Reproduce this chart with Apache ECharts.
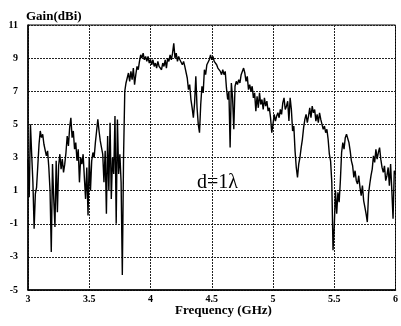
<!DOCTYPE html>
<html><head><meta charset="utf-8">
<script src="https://cdn.jsdelivr.net/npm/echarts@6/dist/echarts.min.js"></script>
<style>html,body{margin:0;padding:0;background:#fff}#c{width:401px;height:326px}</style>
</head><body><div id="c"></div>
<script>
// Frequency sampling grid (GHz)
const freqStart = 3.00;
const freqStep = 0.01;
// Gain readings (dBi), one per 0.01 GHz from 3.00 to 6.00
const gain3_0 = [2.9,0.6,5.0,3.2,1.5,-1.3,0.8,1.2,2.5,3.8];
const gain3_1 = [4.6,4.2,4.4,3.8,3.9,3.1,3.4,2.4,1.0,-2.7];
const gain3_2 = [2.6,0.5,-1.2,2.8,-0.3,2.5,3.2,2.3,2.9,2.1];
const gain3_3 = [2.6,3.3,4.3,3.7,4.8,5.4,4.2,4.6,3.5,3.9];
const gain3_4 = [2.8,3.5,1.5,3.0,2.6,3.2,1.8,0.5,2.4,-0.5];
const gain3_5 = [3.0,1.0,2.8,3.3,3.0,3.9,4.6,5.3,4.6,4.0];
const gain3_6 = [3.6,3.2,1.5,3.4,-0.4,4.3,1.0,5.1,0.5,3.0];
const gain3_7 = [2.0,5.5,-1.0,5.3,2.0,3.2,1.5,-4.1,3.0,7.0];
const gain3_8 = [7.5,7.8,8.1,7.6,8.2,7.7,8.4,7.4,8.0,8.5];
const gain3_9 = [8.3,8.8,9.2,9.0,9.3,8.9,9.1,8.8,9.1,8.7];
const gain4_0 = [8.9,8.6,8.9,8.5,8.7,8.4,8.8,8.5,8.6,8.3];
const gain4_1 = [8.7,8.5,8.9,8.4,9.0,8.8,9.2,8.9,9.3,9.9];
const gain4_2 = [9.0,9.3,8.8,9.1,8.9,9.0,8.6,8.8,8.5,8.6];
const gain4_3 = [7.8,7.1,7.4,6.5,6.0,5.4,6.3,7.9,6.0,5.0];
const gain4_4 = [4.5,6.2,7.3,6.9,8.3,8.0,8.6,8.5,8.9,9.2];
const gain4_5 = [8.9,9.1,8.8,8.9,8.6,8.4,8.5,8.2,8.0,8.3];
const gain4_6 = [8.0,8.2,7.2,6.5,7.0,3.6,7.5,6.6,4.7,7.3];
const gain4_7 = [7.6,7.4,7.7,7.5,8.0,7.9,8.4,8.1,7.6,7.9];
const gain4_8 = [7.1,7.4,7.0,7.3,6.6,6.9,5.8,6.7,6.0,6.9];
const gain4_9 = [6.2,6.5,5.9,6.6,6.1,6.4,5.8,6.0,5.4,4.5];
const gain5_0 = [5.0,5.6,5.2,5.5,5.7,5.4,5.9,5.6,6.3,6.6];
const gain5_1 = [5.9,6.1,6.4,5.2,6.6,5.9,4.6,4.9,3.4,2.4];
const gain5_2 = [1.8,2.6,3.0,3.6,4.1,4.8,5.3,5.6,5.1,5.5];
const gain5_3 = [6.0,5.4,6.1,5.7,5.9,5.2,5.6,5.1,5.7,5.3];
const gain5_4 = [5.0,4.7,4.9,4.5,4.7,4.1,3.2,2.8,1.5,-2.6];
const gain5_5 = [-1.2,1.0,-0.4,0.9,0.3,1.6,3.3,3.9,3.5,4.2];
const gain5_6 = [4.4,4.3,3.9,3.4,2.8,2.5,1.8,2.2,1.6,1.4];
const gain5_7 = [1.9,1.2,0.7,1.3,0.4,0.0,-0.4,-0.9,0.8,1.4];
const gain5_8 = [1.9,2.3,3.1,2.7,3.5,2.9,3.3,3.6,2.9,2.4];
const gain5_9 = [2.1,2.5,1.6,1.9,2.4,1.3,2.6,1.0,-0.7,2.2];
const gain6_0 = [2.0];
const gain = [].concat(gain3_0,gain3_1,gain3_2,gain3_3,gain3_4,gain3_5,gain3_6,gain3_7,gain3_8,gain3_9,
  gain4_0,gain4_1,gain4_2,gain4_3,gain4_4,gain4_5,gain4_6,gain4_7,gain4_8,gain4_9,
  gain5_0,gain5_1,gain5_2,gain5_3,gain5_4,gain5_5,gain5_6,gain5_7,gain5_8,gain5_9,gain6_0);
const xTicks = [3, 3.5, 4, 4.5, 5, 5.5, 6];
const yTicks = [-5, -3, -1, 1, 3, 5, 7, 9, 11];
const yLabel = 'Gain(dBi)';
const xLabel = 'Frequency (GHz)';
const note = 'd=1λ';

const data = gain.map((g, i) => [+(freqStart + i * freqStep).toFixed(2), g]);
const serif = '"Liberation Serif","DejaVu Serif",serif';
const chart = echarts.init(document.getElementById('c'), null, {renderer: 'canvas'});
chart.setOption({
  animation: false,
  backgroundColor: '#fff',
  grid: {left: 28, top: 25, right: 0, bottom: 36, show: true, borderColor: '#000', borderWidth: 1, backgroundColor: 'transparent'},
  xAxis: {
    type: 'value', min: xTicks[0], max: xTicks[xTicks.length - 1], interval: 0.5,
    axisLine: {show: true, onZero: false, lineStyle: {color: '#000', width: 1.5}},
    axisTick: {show: false},
    axisLabel: {color: '#000', fontFamily: serif, fontWeight: 'bold', fontSize: 10, margin: 4, showMaxLabel: true},
    splitLine: {show: true, lineStyle: {color: '#222', type: [2, 1], width: 1}}
  },
  yAxis: {
    type: 'value', min: yTicks[0], max: yTicks[yTicks.length - 1], interval: 2,
    axisLine: {show: true, onZero: false, lineStyle: {color: '#000', width: 1.5}},
    axisTick: {show: false},
    axisLabel: {color: '#000', fontFamily: serif, fontWeight: 'bold', fontSize: 10, margin: 10},
    splitLine: {show: true, lineStyle: {color: '#222', type: [2, 1], width: 1}}
  },
  graphic: [
    {type: 'text', left: 26, top: 10, style: {text: yLabel, font: 'bold 13px ' + serif, fill: '#000'}},
    {type: 'text', left: 175, top: 304, style: {text: xLabel, font: 'bold 13px ' + serif, fill: '#000'}},
    {type: 'text', left: 197, top: 173, style: {text: note, font: '20px ' + serif, fill: '#000'}}
  ],
  series: [{
    type: 'line', data: data, showSymbol: false, symbol: 'none',
    lineStyle: {color: '#000', width: 1.4}
  }]
});
</script>
</body></html>
